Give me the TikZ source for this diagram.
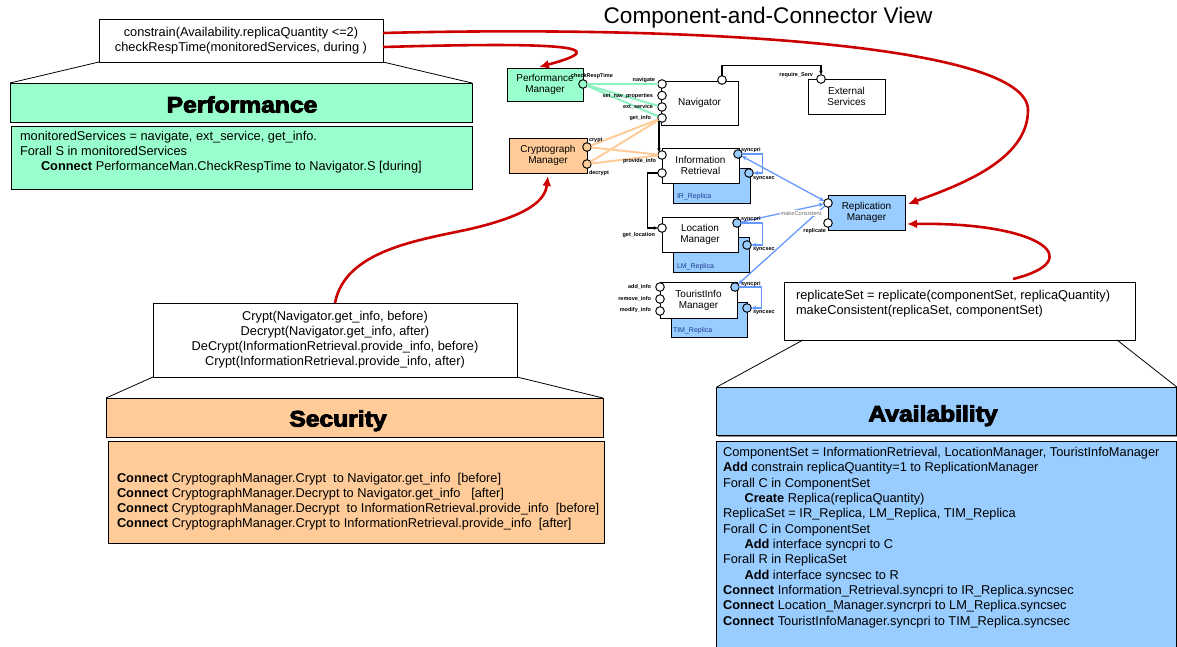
\documentclass[tikz,border=0pt]{standalone}
\usepackage{fontspec}
\setmainfont{Liberation Sans}
\newfontfamily\headfont[BoldFeatures={FakeBold=4}]{Liberation Sans}
\usepackage{graphicx}
\usetikzlibrary{arrows.meta,shadows,calc}

\definecolor{mint}{HTML}{99FFCC}
\definecolor{mintwire}{HTML}{8CF2C0}
\definecolor{peach}{HTML}{FFCC99}
\definecolor{sky}{HTML}{99CCFF}
\definecolor{wire}{HTML}{6699FF}
\definecolor{curvered}{HTML}{CC0000}
\definecolor{navy}{HTML}{1F3F8F}

\tikzset{
  every node/.style={inner sep=0pt, outer sep=0pt},
  panel/.style={draw=black, line width=0.8pt,
    drop shadow={shadow xshift=1.2pt, shadow yshift=-1.2pt, fill=black!45, opacity=1}},
  comp/.style={draw=black, line width=0.9pt, align=center,
    font=\fontsize{10}{11}\selectfont,
    drop shadow={shadow xshift=1pt, shadow yshift=-1pt, fill=black!80, opacity=1}},
  port/.style={circle, draw=black, line width=0.95pt, fill=white, minimum size=8.6pt},
  bport/.style={port, fill=sky},
  plabel/.style={font=\fontsize{5.5}{6}\selectfont\bfseries},
  rlabel/.style={font=\fontsize{7}{8}\selectfont, text=navy, anchor=west},
  spec/.style={font=\fontsize{12.8}{15}\selectfont},
  heading/.style={font=\headfont\bfseries\fontsize{22.4}{26}\selectfont, anchor=base},
  flare/.style={draw=black, line width=0.8pt},
  redarc/.style={draw=curvered, line width=2.6pt, -{Latex[length=10pt,width=9pt]}},
  perfwire/.style={draw=mintwire, line width=2pt},
  cryptwire/.style={draw=peach, line width=2pt},
  bwire/.style={draw=wire, line width=1.3pt},
  syncloop/.style={draw=wire, line width=1.6pt, -{Stealth[length=5pt,width=4.5pt]}},
  bconn/.style={draw=black, line width=1.3pt, -{Stealth[length=4pt,width=3.5pt]}},
  btip/.style={-{Stealth[length=5pt,width=4.5pt]}},
}

\begin{document}
\begin{tikzpicture}[x=1pt,y=-1pt]
\useasboundingbox (0,0) rectangle (1177,646);

% ---------- title
\node[font=\fontsize{22.6}{26}\selectfont] (title) at (768,18) {Component-and-Connector View};

% ---------- Performance aspect
\node[panel, fill=white, minimum width=284pt, minimum height=43pt, spec, align=center]
  (perfspec) at (241,40.5)
  {constrain(Availability.replicaQuantity <=2)\\checkRespTime(monitoredServices, during )};
\node[panel, fill=mint, minimum width=462pt, minimum height=39pt] (perfhead) at (241,102.5) {};
\node[heading] (perftitle) at (242,112.5) {\scalebox{1.1}[1]{Performance}};
\node[panel, fill=mint, minimum width=461pt, minimum height=63pt] (perfbody) at (241.5,157.5) {};
\node[spec, align=left, anchor=north west] (perftext) at (20,131)
  {monitoredServices = navigate, ext\_service, get\_info.\\
   Forall S in monitoredServices\\
   \hspace*{21pt}\textbf{Connect} PerformanceMan.CheckRespTime to Navigator.S [during]};
\draw[flare] (perfspec.south west) -- (perfhead.north west);
\draw[flare] (perfspec.south east) -- (perfhead.north east);

% ---------- Security aspect
\node[panel, fill=white, minimum width=364pt, minimum height=74pt, spec, align=center]
  (secspec) at (335,340)
  {Crypt(Navigator.get\_info, before)\\
   Decrypt(Navigator.get\_info, after)\\
   DeCrypt(InformationRetrieval.provide\_info, before)\\
   Crypt(InformationRetrieval.provide\_info, after)};
\node[panel, fill=peach, minimum width=497pt, minimum height=39pt] (sechead) at (354.5,417.5) {};
\node[heading] (sectitle) at (338,426.5) {\scalebox{1.1}[1]{Security}};
\node[panel, fill=peach, minimum width=496pt, minimum height=102pt] (secbody) at (356,492) {};
\node[spec, align=left, anchor=north west] (sectext) at (117,473)
  {\textbf{Connect} CryptographManager.Crypt~ to Navigator.get\_info~ [before]\\
   \textbf{Connect} CryptographManager.Decrypt to Navigator.get\_info~~ [after]\\
   \textbf{Connect} CryptographManager.Decrypt~ to InformationRetrieval.provide\_info~ [before]\\
   \textbf{Connect} CryptographManager.Crypt to InformationRetrieval.provide\_info~ [after]};
\draw[flare] (secspec.south west) -- (sechead.north west);
\draw[flare] (secspec.south east) -- (sechead.north east);

% ---------- Availability aspect
\node[panel, fill=white, minimum width=351pt, minimum height=58pt] (avspec) at (959.5,311) {};
\node[spec, align=left, anchor=north west] (avspectext) at (796,290)
  {replicateSet = replicate(componentSet, replicaQuantity)\\
   makeConsistent(replicaSet, componentSet)};
\node[panel, fill=sky, minimum width=460pt, minimum height=48.5pt] (avhead) at (946.75,411.25) {};
\node[heading] (avtitle) at (933,421.5) {\scalebox{1.1}[1]{Availability}};
\node[panel, fill=sky, minimum width=460.5pt, minimum height=220pt] (avbody) at (946.25,551.5) {};
\node[font=\fontsize{12.8}{15.36}\selectfont, align=left, anchor=north west] (avtext) at (723,447)
  {ComponentSet = InformationRetrieval, LocationManager, TouristInfoManager\\
   \textbf{Add} constrain replicaQuantity=1 to ReplicationManager\\
   Forall C in ComponentSet\\
   \hspace*{21.5pt}\textbf{Create} Replica(replicaQuantity)\\
   ReplicaSet = IR\_Replica, LM\_Replica, TIM\_Replica\\
   Forall C in ComponentSet\\
   \hspace*{21.5pt}\textbf{Add} interface syncpri to C\\
   Forall R in ReplicaSet\\
   \hspace*{21.5pt}\textbf{Add} interface syncsec to R\\
   \textbf{Connect} Information\_Retrieval.syncpri to IR\_Replica.syncsec\\
   \textbf{Connect} Location\_Manager.syncrpri to LM\_Replica.syncsec\\
   \textbf{Connect} TouristInfoManager.syncpri to TIM\_Replica.syncsec};
\coordinate (avleft) at ($(avspec.south west)+(19,0)$);
\coordinate (avright) at ($(avspec.south east)+(-18,0)$);
\draw[flare] (avleft) -- (avhead.north west);
\draw[flare] (avright) -- (avhead.north east);

% ---------- components
\node[comp, fill=mint, minimum width=76pt, minimum height=33pt] (perfman) at (545,84.5) {Performance\\Manager};
\node[comp, fill=peach, minimum width=78pt, minimum height=35pt] (cryptman) at (548,155.5) {Cryptograph\\Manager};
\node[comp, fill=white, minimum width=77pt, minimum height=44pt] (nav) at (699.5,103) {Navigator};
\node[comp, fill=white, minimum width=77pt, minimum height=35pt] (ext) at (846.5,96.5) {External\\Services};

\node[comp, fill=sky, minimum width=77pt, minimum height=35pt] (irrep) at (711.5,185.5) {};
\node[comp, fill=white, minimum width=77pt, minimum height=35pt] (ir) at (700.5,165.5) {Information\\Retrieval};
\node[rlabel] (irreptext) at (677,197) {IR\_Replica};

\node[comp, fill=sky, minimum width=76pt, minimum height=35pt] (lmrep) at (711,254.5) {};
\node[comp, fill=white, minimum width=76pt, minimum height=35pt] (lm) at (700,234.5) {Location\\Manager};
\node[rlabel] (lmreptext) at (677,267) {LM\_Replica};

\node[comp, fill=sky, minimum width=76pt, minimum height=35pt] (timrep) at (709,319.5) {};
\node[comp, fill=white, minimum width=77pt, minimum height=36pt] (tim) at (698.5,300) {TouristInfo\\Manager};
\node[rlabel] (timreptext) at (673,331) {TIM\_Replica};

\node[comp, fill=sky, minimum width=77pt, minimum height=35pt] (repman) at (866.5,212.5) {Replication\\Manager};

% ---------- ports
\node[port, fill=mint] (pcheck) at (583,84) {};
\node[port, fill=peach] (pcrypt) at (587,147) {};
\node[port, fill=peach] (pdecrypt) at (587,164) {};
\node[port] (pnav) at (662,84) {};
\node[port] (pset) at (662,95.5) {};
\node[port] (pext) at (662,107) {};
\node[port] (pget) at (662,118) {};
\node[port] (ntop) at (722,80) {};
\node[port] (extp) at (821,79) {};
\node[port] (pprov) at (662,155) {};
\node[port] (pir2) at (662,173) {};
\node[bport] (irpri) at (738,154) {};
\node[bport] (irsec) at (749,173) {};
\node[port] (pgetloc) at (662,228) {};
\node[bport] (lmpri) at (737,223) {};
\node[bport] (lmsec) at (747,245) {};
\node[port] (padd) at (660,287) {};
\node[port] (prem) at (660,299) {};
\node[port] (pmod) at (660,311) {};
\node[bport] (timpri) at (735,287) {};
\node[bport] (timsec) at (747,308) {};
\node[port] (rmtop) at (828,203) {};
\node[port] (rmrep) at (828,223) {};

% ---------- connectors
\draw[perfwire] (pcheck) -- (pnav);
\draw[perfwire] (pcheck) -- (pext);
\draw[perfwire] (pcheck) -- (pget);
\draw[cryptwire] (pcrypt) -- (pget);
\draw[cryptwire] (pcrypt) -- (pprov);
\draw[cryptwire] (pdecrypt) -- (pget);
\draw[cryptwire] (pdecrypt) -- (pprov);

\draw[bconn] (pget.south west) -- (pprov.north west);
\draw[bconn] (pir2.west) -- ++(-10,0) |- (pgetloc.west);
\draw[bconn] (ntop.north) -- ++(0,-10) -| (extp.north);

\draw[syncloop] (irpri.east) -- ++(20,0) |- (irsec.east);
\draw[syncloop] (lmpri.east) -- ++(21,0) |- (lmsec.east);
\draw[syncloop] (timpri.east) -- ++(22,0) |- (timsec.east);

\draw[bwire, {Stealth[length=5pt,width=4.5pt]}-{Stealth[length=5pt,width=4.5pt]}] (irpri) -- (rmtop);
\draw[bwire, btip] (lmpri) -- (rmtop);
\draw[bwire, btip] (rmtop) -- (timpri);

% ---------- port labels
\node[plabel] (lcheck) at (592,76) {checkRespTime};
\node[plabel, anchor=east] (lnav) at (655,80.5) {navigate};
\node[plabel, anchor=east] (lset) at (653,96) {set\_nav\_properties};
\node[plabel, anchor=east] (lext) at (653,107) {ext\_service};
\node[plabel, anchor=east] (lget) at (651,118) {get\_info};
\node[plabel, anchor=west] (lcrypt) at (589,140) {crypt};
\node[plabel, anchor=west] (ldecrypt) at (589,173) {decrypt};
\node[plabel, anchor=east] (lprov) at (656,161) {provide\_info};
\node[plabel, anchor=west] (lirpri) at (741,150) {syncpri};
\node[plabel, anchor=west] (lirsec) at (753,179) {syncsec};
\node[plabel, anchor=west] (llmpri) at (741,219) {syncpri};
\node[plabel, anchor=west] (llmsec) at (753,250) {syncsec};
\node[plabel, anchor=east] (lgetloc) at (655,235) {get\_location};
\node[plabel, anchor=east] (ladd) at (651,287) {add\_info};
\node[plabel, anchor=east] (lrem) at (651,299) {remove\_info};
\node[plabel, anchor=east] (lmod) at (651,310.5) {modify\_info};
\node[plabel, anchor=west] (ltimpri) at (741,284) {syncpri};
\node[plabel, anchor=west] (ltimsec) at (753,313) {syncsec};
\node[plabel, anchor=east] (lreq) at (813,75) {require\_Serv};
\node[plabel, anchor=east] (lrep) at (826,231) {replicate};
\node[font=\fontsize{5.7}{6}\selectfont, text=black!55, fill=white, inner sep=0.5pt] (lmake) at (801,213) {makeConsistent};

% ---------- weaving arcs between aspects and components
\draw[redarc] ([yshift=7.5pt]perfspec.east) .. controls (700,25) and (1028,45) .. (1028,110)
  .. controls (1028,160) and (960,185) .. ([xshift=3pt,yshift=-9pt]repman.north east);
\draw[redarc] ([yshift=-6.5pt]perfspec.east) .. controls (560,42) and (618,46) .. ([xshift=-6pt,yshift=1pt]perfman.north);
\draw[redarc] (secspec.north) .. controls (345,250) and (420,240) .. (470,229)
  .. controls (530,215) and (545,200) .. ([yshift=-3pt]cryptman.south);
\draw[redarc] ([xshift=53.5pt,yshift=3pt]avspec.north) .. controls (1090,260) and (1040,222) .. ([xshift=2pt,yshift=-11.5pt]repman.east);
\end{tikzpicture}
\end{document}
